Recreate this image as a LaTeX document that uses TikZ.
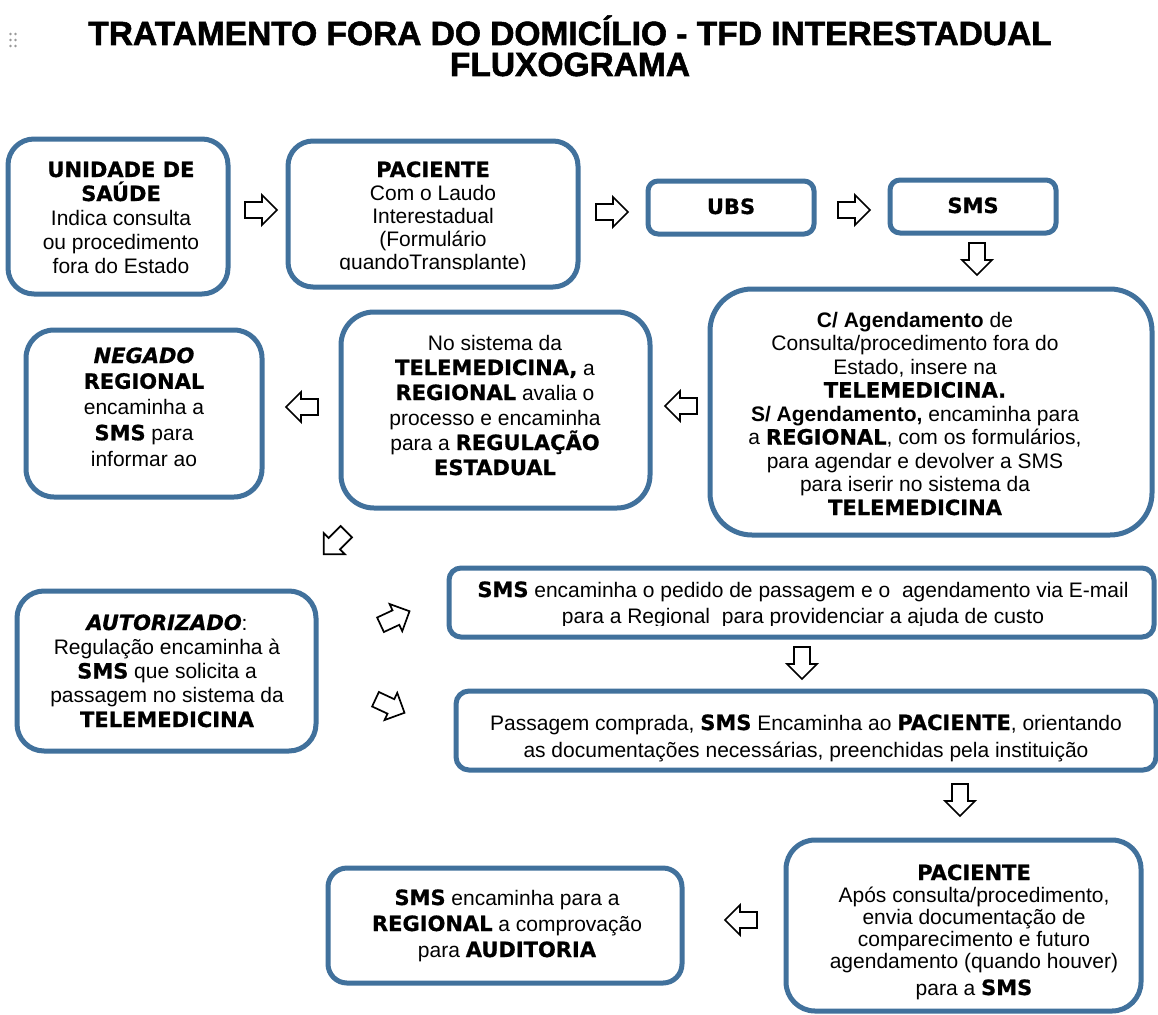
\documentclass[tikz,border=0pt]{standalone}
\usepackage{fontspec}
\setmainfont{Liberation Sans}
\newfontfamily\heavyfont{DejaVu Sans}[BoldFeatures={FakeBold=0.8},BoldItalicFeatures={FakeBold=0.8}]
\newfontfamily\titlefont{Liberation Sans}[BoldFeatures={FakeBold=1.6}]
\newcommand{\hb}[1]{{\heavyfont\bfseries #1}}
\newcommand{\hbi}[1]{{\heavyfont\bfseries\itshape #1}}
\newcommand{\tlines}[2]{\parbox[t]{900pt}{\centering\fontsize{21}{#1}\selectfont #2}}
\definecolor{boxblue}{HTML}{41719C}
\newcommand{\blockarr}[3]{\begin{scope}[shift={(#1,#2)},rotate=#3]\draw[blockarrow] (-16,-8) -- (1,-8) -- (1,-15) -- (16,0) -- (1,15) -- (1,8) -- (-16,8) -- cycle;\end{scope}}
\begin{document}
\begin{tikzpicture}[x=1pt,y=-1pt,
  box/.style={draw=boxblue, line width=5pt, fill=white, rounded corners=#1, inner sep=0pt},
  box/.default=20pt,
  txt/.style={anchor=base, inner sep=0pt},
  blockarrow/.style={draw=black, fill=white, line width=1.7pt, line join=miter},
  grip/.style={fill=black!40, draw=none}]
\useasboundingbox[fill=white] (0,0) rectangle (1158,1014);

% grip dots
\foreach \gx in {10.5,15.5}{\foreach \gy in {34,40,46}{\fill[grip] (\gx,\gy) circle (1.3);}}

% title
\node[txt, font=\titlefont\bfseries\fontsize{33.5}{36}\selectfont] (title1) at (570,45) {TRATAMENTO FORA DO DOMICÍLIO - TFD INTERESTADUAL};
\node[txt, font=\titlefont\bfseries\fontsize{33.5}{36}\selectfont] (title2) at (570,76) {FLUXOGRAMA};

% boxes
\node[box=26pt, minimum width=220pt, minimum height=155pt] (b1) at (118,216.5) {};
\node[box=25pt, minimum width=290pt, minimum height=146pt] (b2) at (433,214) {};
\node[box=10pt, minimum width=166pt, minimum height=53pt] (b3) at (731,207.5) {};
\node[box=10pt, minimum width=166pt, minimum height=53pt] (b4) at (973,206.5) {};
\node[box=42pt, minimum width=442pt, minimum height=246pt] (b5) at (931,412) {};
\node[box=33pt, minimum width=309pt, minimum height=196pt] (b6) at (495.5,410) {};
\node[box=28pt, minimum width=236pt, minimum height=167pt] (b7) at (144,413.5) {};
\node[box=27pt, minimum width=299pt, minimum height=160pt] (b8) at (166.5,671) {};
\node[box=12pt, minimum width=705pt, minimum height=69pt] (b9) at (801.5,602.5) {};
\node[box=13pt, minimum width=700pt, minimum height=79pt] (b10) at (806,730.5) {};
\node[box=29pt, minimum width=355pt, minimum height=171pt] (b11) at (963.5,925.5) {};
\node[box=19pt, minimum width=354pt, minimum height=115pt] (b12) at (505,925.5) {};

% texts
\node[txt] (t1) at (121,177) {\tlines{24}{\hb{UNIDADE DE}\\\hb{SAÚDE}\\Indica consulta\\ou procedimento\\fora do Estado}};
\begin{scope}
\clip (288,141) rectangle (578,269.5);
\node[txt] (t2) at (433,177) {\tlines{23}{\hb{PACIENTE}\\Com o Laudo\\Interestadual\\(Formulário\\quandoTransplante)}};
\end{scope}
\node[txt] (t3) at (731,214) {\tlines{24}{\hb{UBS}}};
\node[txt] (t4) at (973,213) {\tlines{24}{\hb{SMS}}};
\node[txt] (t5) at (915,327) {\tlines{23.5}{\textbf{C/ Agendamento} de\\Consulta/procedimento fora do\\Estado, insere na\\\hb{TELEMEDICINA.}\\\textbf{S/ Agendamento,} encaminha para\\a \hb{REGIONAL}, com os formulários,\\para agendar e devolver a SMS\\para iserir no sistema da\\\hb{TELEMEDICINA}}};
\node[txt] (t6) at (495,350) {\tlines{25}{No sistema da\\\hb{TELEMEDICINA,} a\\\hb{REGIONAL} avalia o\\processo e encaminha\\para a \hb{REGULAÇÃO}\\\hb{ESTADUAL}}};
\node[txt] (t7) at (144,363) {\tlines{25.75}{\hbi{NEGADO}\\\hb{REGIONAL}\\encaminha a\\\hb{SMS} para\\informar ao}};
\node[txt] (t8) at (167,630) {\tlines{24.25}{\hbi{AUTORIZADO}:\\Regulação encaminha à\\\hb{SMS} que solicita a\\passagem no sistema da\\\hb{TELEMEDICINA}}};
\begin{scope}
\clip (449,568) rectangle (1154,625);
\node[txt] (t9) at (803,597) {\tlines{26}{\hb{SMS} encaminha o pedido de passagem e o \ agendamento via E-mail\\para a Regional \ para providenciar a ajuda de custo}};
\end{scope}
\node[txt] (t10) at (806,730) {\tlines{27}{Passagem comprada, \hb{SMS} Encaminha ao \hb{PACIENTE}, orientando\\as documentações necessárias, preenchidas pela instituição}};
\node[txt] (t11) at (974,880) {\tlines{22}{\hb{PACIENTE}\\Após consulta/procedimento,\\envia documentação de\\comparecimento e futuro\\agendamento (quando houver)\\[5pt]para a \hb{SMS}}};
\node[txt] (t12) at (507,905) {\tlines{26}{\hb{SMS} encaminha para a\\\hb{REGIONAL} a comprovação\\para \hb{AUDITORIA}}};

% block arrows
\blockarr{261}{210}{0}
\blockarr{612}{212}{0}
\blockarr{854}{210}{0}
\blockarr{977}{259}{-90}
\blockarr{681}{406}{180}
\blockarr{302}{407}{180}
\blockarr{335}{543}{-135}
\blockarr{395}{618}{25}
\blockarr{390}{706}{-25}
\blockarr{802}{663}{-90}
\blockarr{960}{800}{-90}
\blockarr{741}{920}{180}
\end{tikzpicture}
\end{document}
